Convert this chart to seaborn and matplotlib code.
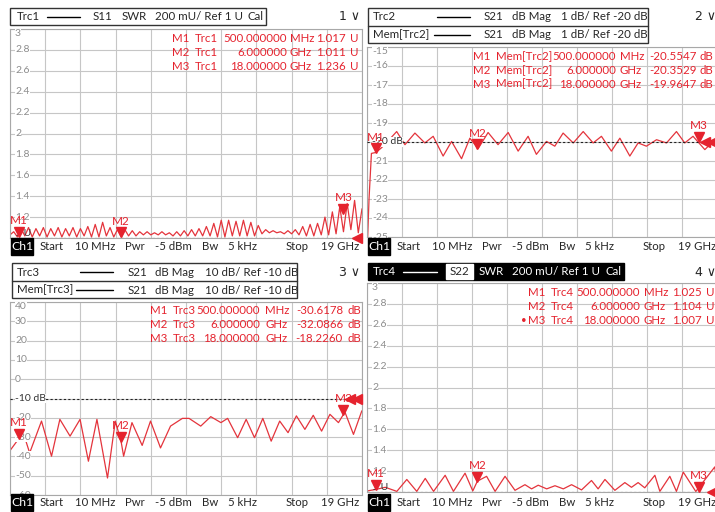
import numpy as np
import pandas as pd
import matplotlib
matplotlib.use("Agg")
import matplotlib.pyplot as plt
import matplotlib.patches as mpatches
import matplotlib.transforms as mtransforms
import seaborn as sns

# sweep 10 MHz .. 19 GHz, values in GHz
f_start, f_stop = 0.01, 19.0

# Trc1 S11 SWR: trough / peak pairs along the sweep
freq_trc1 = np.linspace(f_start, f_stop, 96)
swr_trc1 = [1.03, 1.06, 1.01, 1.09, 1.02, 1.10, 1.01, 1.09, 1.02, 1.10,
            1.01, 1.09, 1.02, 1.10, 1.01, 1.09, 1.02, 1.10, 1.01, 1.09,
            1.02, 1.11, 1.01, 1.13, 1.01, 1.15, 1.02, 1.10, 1.01, 1.08,
            1.01, 1.08, 1.02, 1.07, 1.02, 1.06, 1.03, 1.06, 1.03, 1.05,
            1.03, 1.06, 1.03, 1.05, 1.02, 1.06, 1.02, 1.07, 1.02, 1.08,
            1.02, 1.09, 1.02, 1.11, 1.02, 1.14, 1.01, 1.17, 1.01, 1.17,
            1.02, 1.16, 1.02, 1.17, 1.02, 1.15, 1.02, 1.12, 1.04, 1.08,
            1.05, 1.07, 1.05, 1.06, 1.04, 1.07, 1.04, 1.08, 1.03, 1.11,
            1.02, 1.13, 1.02, 1.14, 1.03, 1.20, 1.03, 1.25, 1.04, 1.30,
            1.06, 1.33, 1.08, 1.36, 1.05, 1.28]

# Trc2 S21 dB Mag
freq_trc2 = [0.01, 0.12, 0.25, 0.5, 0.8, 1.1, 1.62, 2.07, 2.61, 3.15, 3.6, 4.14,
             4.6, 5.14, 5.59, 6.04, 6.58, 7.12, 7.67, 8.21, 8.75, 9.2, 9.75,
             10.2, 10.65, 11.2, 11.74, 12.28, 12.73, 13.27, 13.73, 14.27, 14.72,
             15.17, 15.72, 16.26, 16.8, 17.25, 17.7, 18.34, 18.79, 19.0]
db_trc2 = [-26.0, -23.0, -20.6, -20.55, -20.3, -20.0, -19.45, -20.14, -19.53,
           -20.05, -19.7, -20.74, -19.97, -20.88, -19.8, -20.35, -19.5, -20.14,
           -19.5, -20.48, -19.7, -20.65, -19.97, -20.22, -19.53, -20.05, -19.45,
           -20.05, -19.7, -20.48, -19.8, -20.74, -20.05, -20.22, -19.88, -20.05,
           -19.45, -20.05, -19.7, -20.4, -19.97, -20.1]

# Trc3 S21 dB Mag
freq_trc3 = [0.01, 0.5, 0.75, 1.07, 1.71, 2.25, 2.7, 3.25, 3.79, 4.24, 4.7, 5.27,
             5.69, 6.0, 6.14, 6.59, 7.14, 7.59, 8.13, 8.67, 9.31, 9.67, 10.3,
             10.84, 11.39, 11.75, 12.29, 12.75, 13.2, 13.65, 14.1, 14.56, 15.01,
             15.46, 15.92, 16.37, 16.82, 17.27, 17.73, 18.0, 18.09, 18.54, 18.99]
db_trc3 = [-37.0, -30.6, -28.5, -38.2, -21.7, -39.9, -20.8, -29.5, -20.8, -42.5,
           -20.8, -51.2, -21.7, -32.1, -39.9, -22.5, -34.3, -21.7, -35.6, -24.3,
           -20.3, -20.3, -24.3, -19.4, -22.5, -20.3, -30.3, -20.8, -30.3, -20.3,
           -32.1, -21.7, -27.7, -19.0, -26.0, -18.7, -26.9, -18.2, -22.5, -18.2,
           -17.3, -28.6, -16.4]

# Trc4 S22 SWR
freq_trc4 = [0.01, 0.5, 1.0, 1.63, 2.17, 2.71, 3.17, 3.62, 4.25, 4.7, 5.33, 5.75,
             6.0, 6.5, 6.96, 7.5, 8.04, 8.58, 8.94, 9.3, 9.76, 10.21, 10.66, 11.11,
             11.65, 12.19, 12.55, 12.92, 13.46, 14.0, 14.36, 14.72, 15.08, 15.63,
             15.9, 16.44, 16.8, 17.17, 17.85, 18.88, 19.0]
swr_trc4 = [1.01, 1.025, 1.045, 1.006, 1.12, 1.006, 1.13, 1.006, 1.16, 1.006,
            1.18, 1.01, 1.104, 1.15, 1.006, 1.15, 1.016, 1.07, 1.03, 1.065,
            1.03, 1.06, 1.03, 1.07, 1.02, 1.11, 1.03, 1.12, 1.016, 1.09,
            1.045, 1.09, 1.04, 1.16, 1.006, 1.15, 1.006, 1.19, 1.005, 1.24, 1.08]

# marker readouts (frequency text, value)
marker_freq = [0.5, 6.0, 18.0]
marker_ftxt = ["500.000000", "6.000000", "18.000000"]
marker_unit = ["MHz", "GHz", "GHz"]
m_trc1 = [1.017, 1.011, 1.236]
m_trc2 = [-20.5547, -20.3529, -19.9647]
m_trc3 = [-30.6178, -32.0866, -18.2260]
m_trc4 = [1.025, 1.104, 1.007]

sns.set_style("white")
plt.rcParams['font.family'] = ['Lato', 'DejaVu Sans']

RED = '#e5232e'
TRACE = '#e4343c'
GRID = '#c6c6c6'
W, H = 715, 512

fig = plt.figure(figsize=(W / 100, H / 100), dpi=100)


def fpos(x, y):
    return x / W, 1 - y / H


def ftext(x, y, s, **kw):
    kw.setdefault('fontsize', 8.3)
    kw.setdefault('va', 'center')
    fig.text(*fpos(x, y), s, **kw)


def add_panel(l, t, r, b, ylo, yhi):
    ax = fig.add_axes([l / W, 1 - b / H, (r - l) / W, (b - t) / H])
    ax.set_xticks(np.linspace(f_start, f_stop, 11))
    ax.set_yticks(np.linspace(ylo, yhi, 11))
    ax.grid(True, color=GRID, lw=0.8)
    ax.tick_params(length=0, labelbottom=False, labelleft=False)
    for s in ax.spines.values():
        s.set_color('#a8a8a8')
        s.set_linewidth(0.8)
    return ax


def draw_trace(ax, fr, vals):
    df = pd.DataFrame({'freq': fr, 'val': vals})
    sns.lineplot(data=df, x='freq', y='val', ax=ax, color=TRACE, lw=0.9,
                 estimator=None, sort=False)
    ax.set_xlabel('')
    ax.set_ylabel('')


def ylabels(ax, labels, ylo, yhi, ref_idx, ref_txt):
    tr = mtransforms.blended_transform_factory(ax.transAxes, ax.transData)
    vals = np.linspace(yhi, ylo, 11)
    x0 = 5 / (ax.get_position().width * W)
    for i, (v, lab) in enumerate(zip(vals, labels)):
        if i == ref_idx:
            ax.axhline(v, color='#222222', lw=0.8, ls=(0, (2, 2)), zorder=3)
            if i == 10:
                ax.text(x0, v, ref_txt, transform=tr, fontsize=7.5, color='#333333',
                        ha='left', va='bottom', zorder=4)
            else:
                ax.text(x0, v, ref_txt, transform=tr, fontsize=7.5, color='#333333',
                        ha='left', va='center', zorder=4,
                        bbox=dict(facecolor='white', edgecolor='none', pad=0.3))
            continue
        if lab is None:
            continue
        ax.text(x0, v, lab, transform=tr, fontsize=7.5, color='#8c8c8c',
                ha='left', va='top' if i == 0 else 'center', zorder=4,
                bbox=dict(facecolor='white', edgecolor='none', pad=0.3))


def markers(ax, freqs, vals, names=('M1', 'M2', 'M3')):
    tri = mtransforms.offset_copy(ax.transData, fig=fig, y=4.5, units='dots')
    lab = mtransforms.offset_copy(ax.transData, fig=fig, y=10, units='dots')
    for f, v, n in zip(freqs, vals, names):
        ax.plot([f], [v], marker='v', ms=6.5, color=RED, mec=RED,
                transform=tri, clip_on=False, zorder=6)
        ax.text(f, v, n, transform=lab, color=RED, fontsize=8.5,
                ha='center', va='bottom', zorder=6)


def ref_arrow(ax, v, n=1):
    for k in range(n):
        tr = mtransforms.offset_copy(ax.transData, fig=fig, x=-5 - 7 * k, units='dots')
        ax.plot([f_stop], [v], marker='<', ms=7, color=RED, transform=tr,
                clip_on=False, zorder=6)


def readouts(xs, ys, trc, vals, unit):
    for i in range(3):
        y = ys[i]
        ftext(xs[0], y, f"M{i + 1}", color=RED)
        ftext(xs[1], y, trc, color=RED)
        ftext(xs[2], y, marker_ftxt[i], color=RED, ha='right')
        ftext(xs[3], y, marker_unit[i], color=RED)
        vt = f"{vals[i]:.3f}" if unit == 'U' else f"{vals[i]:.4f}"
        ftext(xs[4], y, vt, color=RED, ha='right')
        ftext(xs[5], y, unit, color=RED)


def footer(x0, y):
    fig.add_artist(mpatches.Rectangle(fpos(x0 + 1, y + 8), 22 / W, 17 / H,
                                      transform=fig.transFigure, color='black'))
    ftext(x0 + 12, y, "Ch1", color='white', ha='center', fontsize=8.8)
    items = [(30, "Start"), (65, "10 MHz"), (115, "Pwr"), (145, "-5 dBm"),
             (192, "Bw"), (218, "5 kHz"), (276, "Stop"), (311, "19 GHz")]
    for dx, s in items:
        ftext(x0 + dx, y, s, fontsize=8.2)


def box(l, t, r, b, face='white', edge='#333333'):
    fig.add_artist(mpatches.Rectangle(fpos(l, b), (r - l) / W, (b - t) / H,
                                      transform=fig.transFigure, facecolor=face,
                                      edgecolor=edge, lw=1))


def hline(x1, x2, y, color='black'):
    fig.add_artist(plt.Line2D([x1 / W, x2 / W], [1 - y / H] * 2,
                              transform=fig.transFigure, color=color, lw=1))


swr_labels = ['3', '2.8', '2.6', '2.4', '2.2', '2', '1.8', '1.6', '1.4', '1.2', None]

# ---- panel 1 ----
ax1 = add_panel(10, 29, 362, 238, 1, 3)
draw_trace(ax1, freq_trc1, swr_trc1)
ylabels(ax1, swr_labels, 1, 3, 10, '1 U')
markers(ax1, marker_freq, m_trc1)
ref_arrow(ax1, 1.0)
ax1.set_xlim(f_start, f_stop)
ax1.set_ylim(1, 3)

box(10, 8, 266, 25)
ftext(17, 16.5, "Trc1")
hline(47, 80, 16.5)
ftext(93, 16.5, "S11")
ftext(122, 16.5, "SWR")
ftext(155, 16.5, "200 mU/ Ref 1 U")
ftext(248, 16.5, "Cal")
ftext(339, 17, "1 \u2228", fontsize=9, family=['DejaVu Sans'])
readouts([172, 195, 287, 290, 346, 350], [38, 52, 66], "Trc1", m_trc1, 'U')
footer(10, 247)

# ---- panel 2 ----
ax2 = add_panel(367, 47, 717, 237, -25, -15)
draw_trace(ax2, freq_trc2, db_trc2)
ylabels(ax2, ['-15', '-16', '-17', '-18', '-19', None, '-21', '-22', '-23', '-24', '-25'],
        -25, -15, 5, '-20 dB')
markers(ax2, marker_freq, m_trc2)
ref_arrow(ax2, -20.0, 2)
ax2.set_xlim(f_start, f_stop)
ax2.set_ylim(-25, -15)

box(368, 8, 648, 43)
hline(368, 648, 26, '#333333')
for y, name, x1 in [(17, "Trc2", 437), (35, "Mem[Trc2]", 434)]:
    ftext(373, y, name)
    hline(x1, 470, y)
    ftext(484, y, "S21")
    ftext(512, y, "dB Mag")
    ftext(561, y, "1 dB/ Ref -20 dB")
ftext(695, 17, "2 \u2228", fontsize=9, family=['DejaVu Sans'])
readouts([473, 496, 616, 620, 697, 700], [57, 71, 84], "Mem[Trc2]", m_trc2, 'dB')
footer(367, 247)

# ---- panel 3 ----
ax3 = add_panel(10, 302, 362, 495, -60, 40)
draw_trace(ax3, freq_trc3, db_trc3)
ylabels(ax3, ['40', '30', '20', '10', '0', None, '-20', '-30', '-40', '-50', '-60'],
        -60, 40, 5, '-10 dB')
markers(ax3, marker_freq, m_trc3)
ref_arrow(ax3, -10.0, 2)
ax3.set_xlim(f_start, f_stop)
ax3.set_ylim(-60, 40)

box(12, 263, 297, 298)
hline(12, 297, 281, '#333333')
for y, name, x1 in [(272, "Trc3", 80), (290, "Mem[Trc3]", 76)]:
    ftext(17, y, name)
    hline(x1, 113, y)
    ftext(128, y, "S21")
    ftext(155, y, "dB Mag")
    ftext(205, y, "10 dB/ Ref -10 dB")
ftext(339, 272, "3 \u2228", fontsize=9, family=['DejaVu Sans'])
readouts([150, 173, 260, 265, 343, 347], [311, 325, 339], "Trc3", m_trc3, 'dB')
footer(10, 503)

# ---- panel 4 ----
ax4 = add_panel(367, 283, 717, 492, 1, 3)
draw_trace(ax4, freq_trc4, swr_trc4)
ylabels(ax4, swr_labels, 1, 3, 10, '1 U')
markers(ax4, marker_freq, m_trc4)
ref_arrow(ax4, 1.0)
ax4.set_xlim(f_start, f_stop)
ax4.set_ylim(1, 3)

box(368, 263, 624, 280, face='black', edge='black')
ftext(373, 271.5, "Trc4", color='white')
hline(403, 437, 271.5, 'white')
box(446, 264, 473, 279, face='white', edge='white')
ftext(450, 271.5, "S22")
ftext(479, 271.5, "SWR", color='white')
ftext(512, 271.5, "200 mU/ Ref 1 U", color='white')
ftext(605, 271.5, "Cal", color='white')
ftext(695, 272, "4 \u2228", fontsize=9, family=['DejaVu Sans'])
readouts([528, 551, 640, 644, 702, 706], [293, 307, 321], "Trc4", m_trc4, 'U')
ftext(521, 321, "\u2022", color=RED, fontsize=7)
footer(367, 503)

fig.savefig("out.png", dpi=100)
